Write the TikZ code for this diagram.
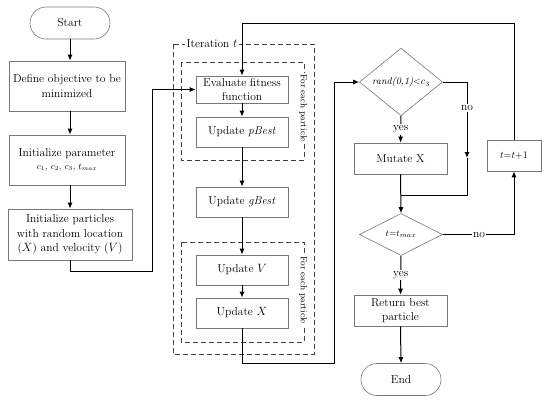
\documentclass[tikz,border=0pt]{standalone}
\usetikzlibrary{arrows.meta,shapes.geometric,shapes.misc}
\definecolor{boxgray}{RGB}{120,120,120}
\begin{document}
\begin{tikzpicture}[x=1pt,y=-1pt,
  every node/.style={font=\fontsize{11.5}{14.5}\selectfont},
  box/.style={draw=boxgray, line width=0.6pt, align=center, inner sep=1pt},
  term/.style={draw=boxgray, line width=0.6pt, rounded rectangle, inner sep=1pt, minimum width=82, minimum height=32},
  dec/.style={draw=boxgray, line width=0.6pt, diamond, inner sep=0pt, minimum width=83, minimum height=42},
  conn/.style={draw=black, line width=1pt, -{Latex[length=6pt,width=5pt]}},
  plain/.style={draw=black, line width=1pt},
  dbox/.style={draw=black!75, line width=0.8pt, dash pattern=on 5pt off 3pt},
  lbl/.style={fill=white, inner sep=1.5pt},
  side/.style={fill=white, inner sep=1pt, rotate=-90, font=\fontsize{9}{11}\selectfont}
]
\useasboundingbox (0,0) rectangle (550,402);
% left column
\node[term] (start) at (70,23) {Start};
\node[box, minimum width=116, minimum height=50] (define) at (67,86) {Define objective to be\\minimized};
\node[box, minimum width=116, minimum height=50] (initpar) at (67,160) {Initialize parameter\\[-2pt]{\fontsize{9}{10}\selectfont$c_1$, $c_2$, $c_3$, $t_{max}$}};
\node[box, minimum width=124, minimum height=51] (initpart) at (70,234.5) {Initialize particles\\with random location\\($X$) and velocity ($V$)};
% dashed groups
\draw[dbox] (173,44) rectangle (314,354);
\node[lbl] (itlab) at (212,44) {Iteration $t$};
\draw[dbox] (181,62) rectangle (304,160);
\node[side] (side1) at (303,108) {For each particle};
\draw[dbox] (181,242) rectangle (304,342);
\node[side] (side2) at (303,290) {For each particle};
% middle column
\node[box, minimum width=92, minimum height=27] (eval) at (242,89.5) {Evaluate fitness\\function};
\node[box, minimum width=92, minimum height=30] (pbest) at (242,132) {Update \textit{pBest}};
\node[box, minimum width=92, minimum height=30] (gbest) at (242,202) {Update \textit{gBest}};
\node[box, minimum width=92, minimum height=30] (updv) at (242,270) {Update $V$};
\node[box, minimum width=92, minimum height=30] (updx) at (242,313) {Update $X$};
% right column
\node[dec] (rand) at (401,82) {\fontsize{10}{11}\selectfont\textit{rand(0,1)}$<$$c_3$};
\node[box, minimum width=93, minimum height=31] (mutate) at (400.5,158.5) {Mutate X};
\node[dec] (tmax) at (401,234.5) {\fontsize{9.5}{11}\selectfont$t$=$t_{max}$};
\node[box, minimum width=93, minimum height=31] (ret) at (400.5,310.5) {Return best\\particle};
\node[term] (end) at (401,379.5) {End};
\node[box, minimum width=54, minimum height=31] (tt) at (514,155.5) {\fontsize{10}{11}\selectfont$t$=$t$+1};
% coordinates
\coordinate (c1) at (152,271);
\coordinate (c2) at (334,363);
\coordinate (c3) at (467,158);
\coordinate (join) at (401,195);
\coordinate (top) at (514,23);
% connectors
\draw[conn] (start.south) -- (start.south |- define.north);
\draw[conn] (start.south |- define.south) -- (start.south |- initpar.north);
\draw[conn] (start.south |- initpar.south) -- (initpart.north);
\draw[conn] (initpart.south) |- (c1) |- (eval.west);
\draw[conn] (eval.south) -- (pbest.north);
\draw[conn] (pbest.south) -- (gbest.north);
\draw[conn] (gbest.south) -- (updv.north);
\draw[conn] (updv.south) -- (updx.north);
\draw[conn] (updx.south) |- (c2) |- (rand.west);
\draw[conn] (rand.south) -- (mutate.north) node[midway,lbl]{yes};
\draw[conn] (rand.east) -| (c3);
\draw[plain] (c3) |- (join);
\node[lbl] at (467,108) {no};
\draw[conn] (mutate.south) -- (tmax.north);
\draw[conn] (tmax.south) -- (ret.north) node[midway,lbl]{yes};
\draw[conn] (ret.south) -- (end.north);
\draw[conn] (tmax.east) -| (tt.south);
\node[lbl] at (479,234.5) {no};
\draw[conn] (tt.north) -- (top) -| (eval.north);
\end{tikzpicture}
\end{document}
